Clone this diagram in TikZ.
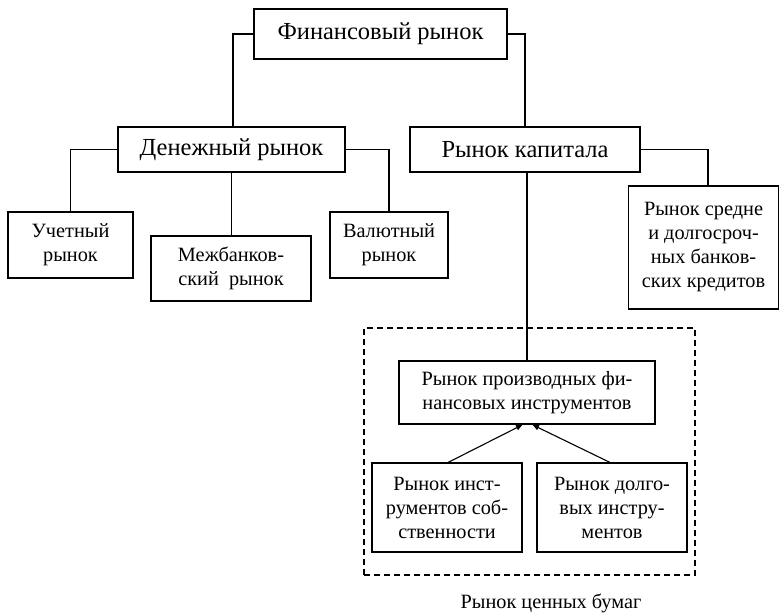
\documentclass[tikz,border=0pt]{standalone}
\usepackage{fontspec}
\setmainfont{Liberation Serif}
\usetikzlibrary{arrows.meta}
\begin{document}
\begin{tikzpicture}[x=1pt,y=-1pt,
  line width=1.1pt,
  box/.style={draw, inner sep=0pt, align=center},
  big/.style={font=\fontsize{24.5}{28}\selectfont},
  small/.style={font=\fontsize{20.3}{24}\selectfont},
  arr/.style={-{Latex[length=7pt,width=6pt]}, line width=1.1pt}
]
\useasboundingbox (0,0) rectangle (781,614);
\fill[white] (0,0) rectangle (781,614);

\node[box,big,minimum width=253pt,minimum height=50pt] (fin) at (380.5,34) {Финансовый рынок};
\node[box,big,minimum width=227pt,minimum height=45pt] (den) at (231.5,149.5) {Денежный рынок};
\node[box,big,minimum width=230pt,minimum height=45pt] (cap) at (525,149.5) {Рынок капитала};

\node[box,small,minimum width=125pt,minimum height=66pt] (uch) at (70.5,245) {Учетный\\рынок};
\node[box,small,minimum width=160pt,minimum height=65pt] (mezh) at (231,268.5) {Межбанков-\\ский\ \ рынок};
\node[box,small,minimum width=118pt,minimum height=66pt] (val) at (389,245) {Валютный\\рынок};
\node[box,small,minimum width=150pt,minimum height=123pt] (sred) at (703.5,247.5) {Рынок средне\\и долгосроч-\\ных банков-\\ских кредитов};

\node[draw,dashed,dash pattern=on 6pt off 4pt,minimum width=331pt,minimum height=247pt,inner sep=0pt] (frame) at (529.5,451.5) {};

\node[box,small,minimum width=256pt,minimum height=63pt] (der) at (527,392.5) {Рынок производных фи-\\нансовых инструментов};
\node[box,small,minimum width=150pt,minimum height=89pt] (eq) at (447,507.5) {Рынок инст-\\рументов соб-\\ственности};
\node[box,small,minimum width=150pt,minimum height=89pt] (debt) at (612,507.5) {Рынок долго-\\вых инстру-\\ментов};

\node[small,inner sep=0pt] (lbl) at (551,603) {Рынок ценных бумаг};

\draw (fin.west) -| ([xshift=1.5pt]den.north);
\draw (fin.east) -| (cap.north);
\draw (den.west) -| (uch.north);
\draw (den.south) -- (den.south |- mezh.north);
\draw (den.east) -| (val.north);
\draw (cap.east) -| ([xshift=4.5pt]sred.north);
\draw (cap.south -| der.north) -- (der.north);

\draw[arr] ([xshift=1pt]eq.north) -- ([xshift=-4pt]der.south);
\draw[arr] ([xshift=-2pt]debt.north) -- ([xshift=5pt]der.south);
\end{tikzpicture}
\end{document}
